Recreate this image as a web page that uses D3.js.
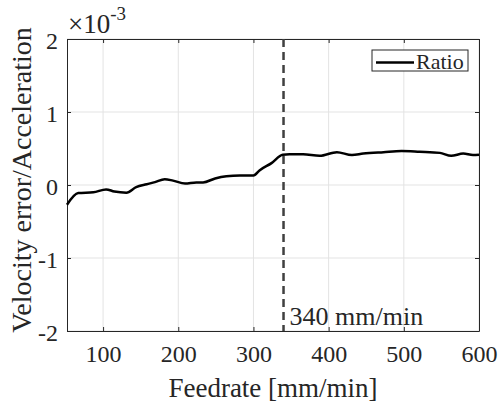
<!DOCTYPE html>
<html>
<head>
<meta charset="utf-8">
<script src="https://d3js.org/d3.v7.min.js"></script>
<style>
body { margin:0; background:#fff; }
svg text { font-family: "Liberation Serif", "Times New Roman", Times, "DejaVu Serif", serif; fill:#262626; }
</style>
</head>
<body>
<script>

// data (ratio in units of 1e-3)
var feedrate = [52, 67, 87, 104, 115, 131, 144, 158, 169, 182, 193, 209, 224, 233, 249, 264, 282, 300, 308, 324, 339, 348, 366, 388, 411, 431, 446, 473, 497, 521, 548, 563, 579, 592, 600];
var ratio    = [-0.27, -0.11, -0.10, -0.06, -0.09, -0.105, -0.03, 0.01, 0.04, 0.08, 0.06, 0.02, 0.035, 0.035, 0.09, 0.12, 0.13, 0.13, 0.2, 0.30, 0.415, 0.42, 0.42, 0.40, 0.45, 0.41, 0.43, 0.45, 0.465, 0.455, 0.44, 0.40, 0.43, 0.41, 0.415];
var xTicks = [100, 200, 300, 400, 500, 600];
var yTicks = [-2, -1, 0, 1, 2];
var markX = 340;

var serif = '"Liberation Serif", "Times New Roman", Times, serif';
var width = 500, height = 403;
var margin = {top:39, right:21, bottom:72, left:67};
var w = width - margin.left - margin.right;
var h = height - margin.top - margin.bottom;

var svg = d3.select("body").append("svg")
    .attr("width", width)
    .attr("height", height);

var g = svg.append("g")
    .attr("transform", "translate(" + margin.left + "," + margin.top + ")");

var x = d3.scaleLinear().domain([52, 600]).range([0, w]);
var y = d3.scaleLinear().domain([-2, 2]).range([h, 0]);

// grid
g.append("g").selectAll("line").data(xTicks).enter().append("line")
    .attr("x1", function(d){ return x(d); }).attr("x2", function(d){ return x(d); })
    .attr("y1", 0).attr("y2", h)
    .attr("stroke", "#e3e3e3").attr("stroke-width", 1);
g.append("g").selectAll("line").data(yTicks).enter().append("line")
    .attr("y1", function(d){ return y(d); }).attr("y2", function(d){ return y(d); })
    .attr("x1", 0).attr("x2", w)
    .attr("stroke", "#e3e3e3").attr("stroke-width", 1);

// axes (MATLAB box style, inward ticks)
var fmt = function(d){ return String(d); };
var axB = g.append("g").attr("transform", "translate(0," + h + ")")
    .call(d3.axisBottom(x).tickValues(xTicks).tickFormat(fmt).tickSizeInner(-4).tickSizeOuter(0).tickPadding(14));
var axT = g.append("g")
    .call(d3.axisTop(x).tickValues(xTicks).tickSizeInner(-4).tickSizeOuter(0).tickFormat(""));
var axL = g.append("g")
    .call(d3.axisLeft(y).tickValues(yTicks).tickFormat(fmt).tickSizeInner(-4).tickSizeOuter(0).tickPadding(9));
var axR = g.append("g").attr("transform", "translate(" + w + ",0)")
    .call(d3.axisRight(y).tickValues(yTicks).tickSizeInner(-4).tickSizeOuter(0).tickFormat(""));

[axB, axT, axL, axR].forEach(function(a){
    a.attr("font-family", serif).attr("font-size", 24);
    a.select(".domain").attr("stroke", "#262626").attr("stroke-width", 1);
    a.selectAll(".tick line").attr("stroke", "#262626");
    a.selectAll("text").style("font-family", serif).attr("font-size", 24).attr("fill", "#262626");
});
axB.selectAll("text").attr("dy", "0.71em");
axL.selectAll("text").attr("dy", "0.4em");

// dashed marker line
g.append("line")
    .attr("x1", x(markX)).attr("x2", x(markX))
    .attr("y1", 0).attr("y2", h)
    .attr("stroke", "#404040").attr("stroke-width", 2.5)
    .attr("stroke-dasharray", "8,5");

// data line
var pts = feedrate.map(function(d, i){ return [d, ratio[i]]; });
g.append("path")
    .datum(pts)
    .attr("fill", "none")
    .attr("stroke", "#000")
    .attr("stroke-width", 2.5)
    .attr("stroke-linejoin", "round")
    .attr("d", d3.line().curve(d3.curveMonotoneX)
        .x(function(d){ return x(d[0]); })
        .y(function(d){ return y(d[1]); }));

// annotation
g.append("text")
    .attr("x", x(markX) + 6).attr("y", h - 6)
    .attr("font-size", 26)
    .text(markX + " mm/min");

// exponent
var ex = svg.append("text").attr("x", 68).attr("y", 33).attr("font-size", 27);
ex.append("tspan").text("\u00d710");
ex.append("tspan").attr("font-size", 19).attr("dy", -13).text("-3");

// legend
var lg = g.append("g").attr("transform", "translate(" + (x(600) - 107) + ",11)");
lg.append("rect").attr("width", 96).attr("height", 21)
    .attr("fill", "#fff").attr("stroke", "#262626").attr("stroke-width", 1);
lg.append("line").attr("x1", 4).attr("x2", 42).attr("y1", 12.5).attr("y2", 12.5)
    .attr("stroke", "#000").attr("stroke-width", 2.5);
lg.append("text").attr("x", 44).attr("y", 19).attr("font-size", 22).text("Ratio");

// axis labels
svg.append("text")
    .attr("x", margin.left + w / 2).attr("y", 397)
    .attr("text-anchor", "middle").attr("font-size", 27)
    .text("Feedrate [mm/min]");
svg.append("text")
    .attr("transform", "translate(31,180) rotate(-90)")
    .attr("text-anchor", "middle").attr("font-size", 28)
    .text("Velocity error/Acceleration");

</script>
</body>
</html>
